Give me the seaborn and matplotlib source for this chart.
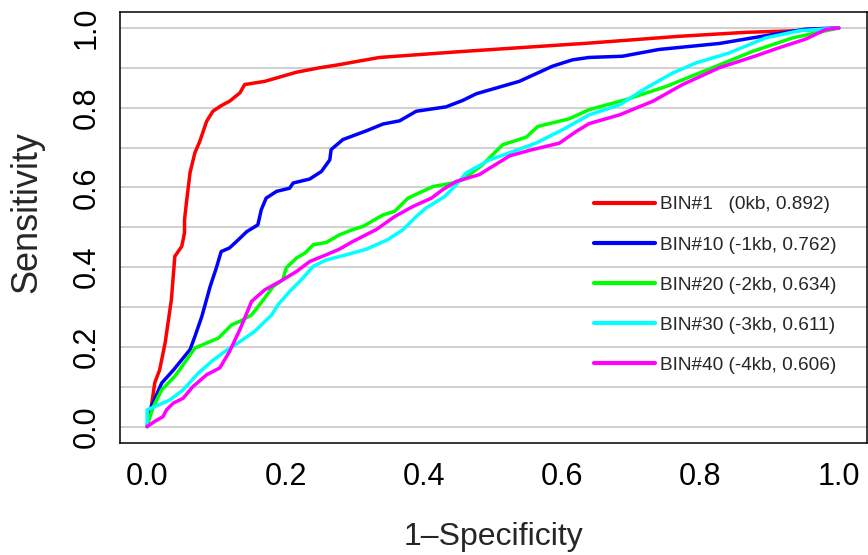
import matplotlib
matplotlib.use("Agg")
import matplotlib.pyplot as plt
import seaborn as sns
import numpy as np
import pandas as pd

# ---- data ----
bin1_fpr = [0, 0.006, 0.011, 0.018, 0.026, 0.035, 0.040, 0.050, 0.054, 0.054, 0.057, 0.062, 0.069,
            0.076, 0.086, 0.095, 0.107, 0.119, 0.134, 0.141, 0.170, 0.196, 0.216, 0.249, 0.278,
            0.297, 0.336, 0.456, 0.639, 0.769, 0.866, 0.938, 1.0]
bin1_tpr = [0, 0.050, 0.110, 0.142, 0.210, 0.318, 0.427, 0.452, 0.486, 0.519, 0.565, 0.637, 0.687,
            0.715, 0.766, 0.791, 0.805, 0.816, 0.837, 0.858, 0.866, 0.879, 0.889, 0.900, 0.908,
            0.914, 0.926, 0.941, 0.962, 0.979, 0.989, 0.993, 1.0]

bin10_fpr = [0, 0.006, 0.021, 0.038, 0.062, 0.069, 0.079, 0.091, 0.100, 0.107, 0.119, 0.129, 0.144,
             0.160, 0.165, 0.172, 0.187, 0.206, 0.211, 0.235, 0.252, 0.264, 0.266, 0.283, 0.317,
             0.341, 0.365, 0.389, 0.432, 0.456, 0.476, 0.538, 0.586, 0.615, 0.639, 0.687, 0.740,
             0.827, 0.875, 0.952, 1.0]
bin10_tpr = [0, 0.050, 0.109, 0.142, 0.193, 0.226, 0.276, 0.351, 0.398, 0.439, 0.448, 0.464, 0.489,
             0.506, 0.544, 0.573, 0.590, 0.598, 0.611, 0.621, 0.640, 0.669, 0.695, 0.720, 0.742,
             0.759, 0.767, 0.791, 0.802, 0.818, 0.835, 0.866, 0.904, 0.920, 0.926, 0.929, 0.946,
             0.961, 0.975, 0.997, 1.0]

bin20_fpr = [0, 0.001, 0.009, 0.021, 0.040, 0.057, 0.069, 0.103, 0.122, 0.134, 0.151, 0.168, 0.182,
             0.196, 0.201, 0.216, 0.228, 0.240, 0.259, 0.278, 0.297, 0.312, 0.341, 0.358, 0.377,
             0.413, 0.442, 0.456, 0.485, 0.514, 0.548, 0.565, 0.610, 0.639, 0.692, 0.750, 0.817,
             0.875, 0.933, 0.976, 1.0]
bin20_tpr = [0, 0.009, 0.050, 0.092, 0.126, 0.167, 0.197, 0.222, 0.255, 0.264, 0.280, 0.318, 0.351,
             0.368, 0.398, 0.423, 0.435, 0.456, 0.462, 0.481, 0.494, 0.502, 0.531, 0.540, 0.573,
             0.602, 0.611, 0.619, 0.657, 0.707, 0.726, 0.753, 0.772, 0.795, 0.820, 0.853, 0.900,
             0.941, 0.975, 0.991, 1.0]

bin30_fpr = [0, 0, 0.011, 0.033, 0.052, 0.074, 0.093, 0.112, 0.134, 0.155, 0.180, 0.189, 0.206,
             0.225, 0.240, 0.259, 0.288, 0.317, 0.348, 0.370, 0.389, 0.403, 0.430, 0.447, 0.461,
             0.495, 0.529, 0.562, 0.601, 0.639, 0.683, 0.721, 0.760, 0.793, 0.841, 0.894, 0.943, 1.0]
bin30_tpr = [0, 0.042, 0.050, 0.067, 0.092, 0.134, 0.163, 0.188, 0.213, 0.238, 0.280, 0.305, 0.339,
             0.372, 0.402, 0.418, 0.431, 0.445, 0.469, 0.494, 0.527, 0.548, 0.577, 0.607, 0.636,
             0.669, 0.690, 0.711, 0.745, 0.782, 0.807, 0.849, 0.887, 0.912, 0.937, 0.975, 0.993, 1.0]

bin40_fpr = [0, 0.011, 0.023, 0.028, 0.038, 0.052, 0.066, 0.086, 0.105, 0.119, 0.134, 0.151, 0.170,
             0.192, 0.216, 0.235, 0.259, 0.278, 0.297, 0.331, 0.358, 0.384, 0.411, 0.427, 0.447,
             0.480, 0.524, 0.553, 0.596, 0.620, 0.639, 0.683, 0.731, 0.774, 0.827, 0.880, 0.913,
             0.952, 0.981, 1.0]
bin40_tpr = [0, 0.013, 0.025, 0.042, 0.059, 0.071, 0.100, 0.130, 0.147, 0.188, 0.243, 0.314, 0.343,
             0.364, 0.389, 0.414, 0.431, 0.445, 0.464, 0.494, 0.527, 0.552, 0.573, 0.594, 0.615,
             0.632, 0.679, 0.693, 0.711, 0.740, 0.760, 0.782, 0.816, 0.858, 0.900, 0.930, 0.950,
             0.972, 0.996, 1.0]

labels = ["BIN#1   (0kb, 0.892)", "BIN#10 (-1kb, 0.762)", "BIN#20 (-2kb, 0.634)",
          "BIN#30 (-3kb, 0.611)", "BIN#40 (-4kb, 0.606)"]
colors = ["#FF0000", "#0000FF", "#00FF00", "#00FFFF", "#FF00FF"]
xticks = [0.0, 0.2, 0.4, 0.6, 0.8, 1.0]
yticks = [0.0, 0.2, 0.4, 0.6, 0.8, 1.0]
tick_labels = ["0.0", "0.2", "0.4", "0.6", "0.8", "1.0"]

series = [(bin1_fpr, bin1_tpr), (bin10_fpr, bin10_tpr), (bin20_fpr, bin20_tpr),
          (bin30_fpr, bin30_tpr), (bin40_fpr, bin40_tpr)]

# ---- plot ----
sns.set_style("white")
plt.rcParams["font.family"] = ["Liberation Sans", "DejaVu Sans"]

fig = plt.figure(figsize=(8.68, 5.55), dpi=100)
ax = fig.add_axes([119.5 / 868, 1 - 442.5 / 555, (866.5 - 119.5) / 868, (442.5 - 12) / 555])

for yv in np.arange(0, 1.0001, 0.1):
    ax.axhline(yv, color="#C8C8C8", lw=1.2, zorder=0)

for (fx, ty), lab, col in zip(series, labels, colors):
    df = pd.DataFrame({"fpr": fx, "tpr": ty})
    sns.lineplot(data=df, x="fpr", y="tpr", ax=ax, color=col, label=lab, sort=False,
                 estimator=None, lw=2.5, solid_joinstyle="round", solid_capstyle="round",
                 zorder=2)

ax.set_xlim(-0.04, 1.04)
ax.set_ylim(-0.04, 1.04)
ax.set_xticks(xticks)
ax.set_xticklabels(tick_labels)
ax.set_yticks(yticks)
ax.set_yticklabels(tick_labels, rotation=90, va="center")
ax.tick_params(axis="x", direction="in", length=8, width=1, pad=14, labelsize=22, colors="black")
ax.tick_params(axis="y", length=0, pad=13, labelsize=22, colors="black")
for s in ax.spines.values():
    s.set_visible(True)
    s.set_color("black")
    s.set_linewidth(1.1)

ax.set_xlabel("1\u2013Specificity", fontsize=23)
ax.set_ylabel("Sensitivity", fontsize=26)
ax.xaxis.set_label_coords(0.5, -0.185)
ax.yaxis.set_label_coords(-0.1, 0.535)

leg = ax.legend(loc="upper left", bbox_to_anchor=(0.625, 0.59), frameon=False, fontsize=13.7,
                handlelength=3.2, handletextpad=0.25, labelspacing=1.2, borderaxespad=0)
for h in leg.get_lines():
    h.set_linewidth(3)

fig.savefig("out.png", dpi=100)
